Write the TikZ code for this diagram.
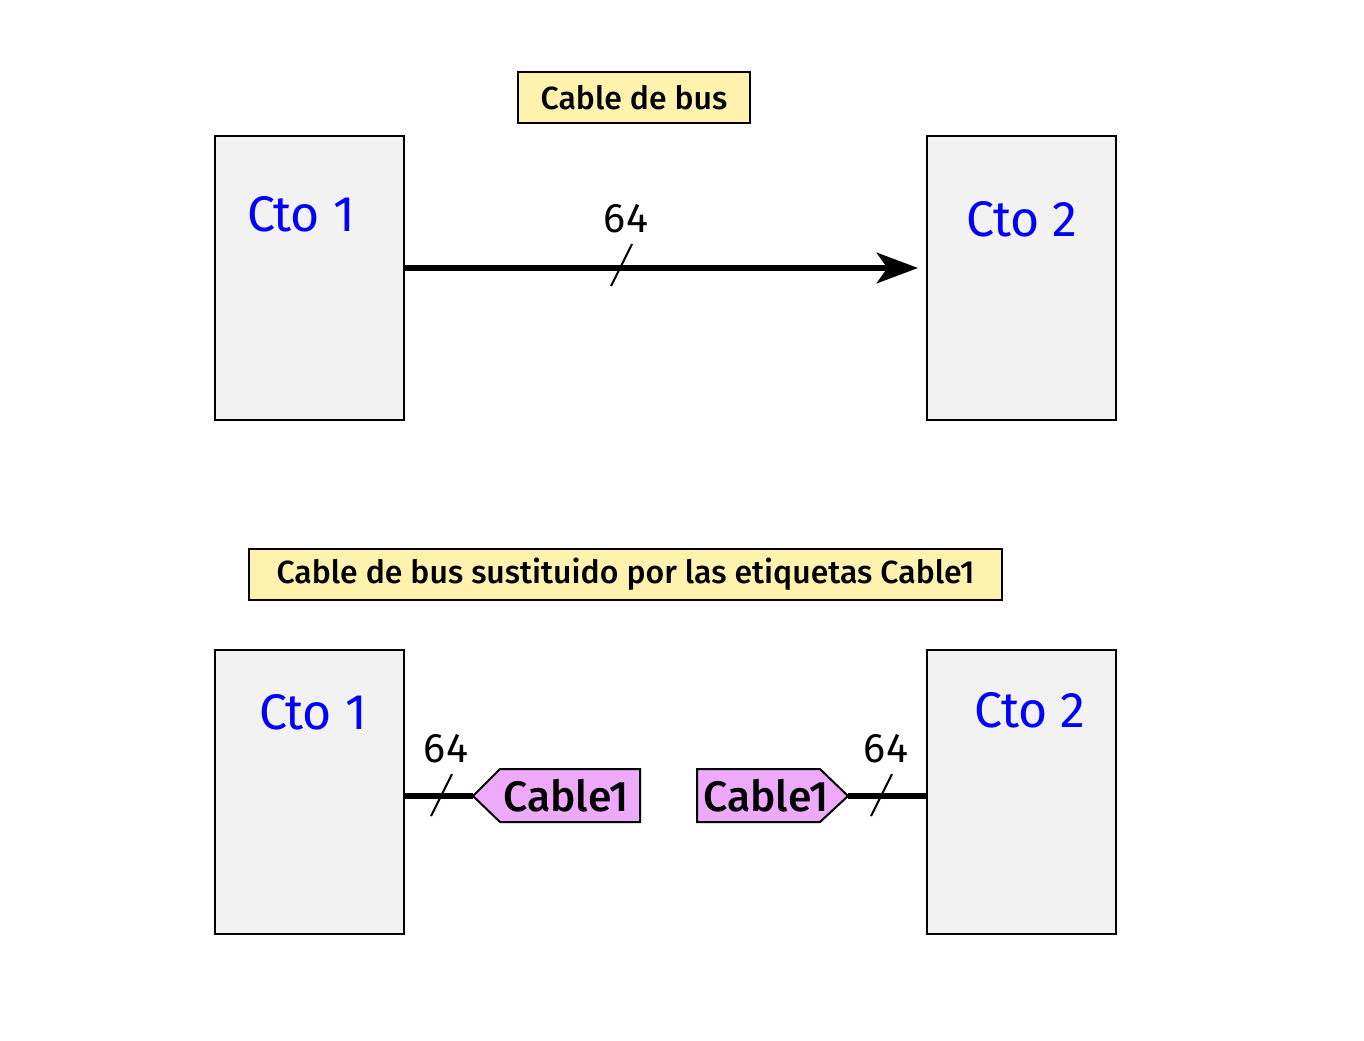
\documentclass[tikz,border=0pt]{standalone}
\usepackage{fontspec}
\setmainfont{Fira Sans}[BoldFont={Fira Sans Medium}]
\usetikzlibrary{arrows.meta}
\definecolor{boxgray}{RGB}{242,242,242}
\definecolor{noteyellow}{RGB}{255,241,174}
\definecolor{tagpink}{RGB}{238,170,250}
\definecolor{ctoblue}{RGB}{0,0,255}
\tikzset{
  x=0.75pt, y=-0.75pt,
  cto/.style={draw=black, line width=1.8pt, fill=boxgray},
  ctolabel/.style={text=ctoblue, font=\fontsize{37.5}{42}\selectfont, inner sep=0pt},
  note/.style={draw=black, line width=1.5pt, fill=noteyellow, inner sep=0pt, font=\bfseries\fontsize{24}{28}\selectfont},
  bus/.style={line width=3.8pt},
  slash/.style={line width=1.5pt},
  width/.style={font=\fontsize{31}{35}\selectfont, inner sep=0pt},
  tag/.style={draw=black, line width=1.5pt, fill=tagpink},
  tagtext/.style={font=\bfseries\fontsize{32}{36}\selectfont, inner sep=0pt},
}
\begin{document}
\begin{tikzpicture}
\useasboundingbox (0,0) rectangle (1364,1040);
% top part
\node[note, minimum width=232*0.75pt, minimum height=51*0.75pt] (t1) at (634,97.5) {Cable de bus};
\draw[cto] (215,136) rectangle (404,420);
\coordinate (a1) at (404,268);
\node[ctolabel] (c1) at (301,214) {Cto 1};
\draw[cto] (927,136) rectangle (1116,420);
\coordinate (a2) at (918,268);
\node[ctolabel] (c2) at (1022,219) {Cto 2};
\draw[bus, -{Stealth[length=31pt, width=23pt, inset=8pt]}] (a1) -- (a2);
\coordinate (s1a) at (611,286); \coordinate (s1b) at (632,244);
\draw[slash] (s1a) -- (s1b);
\node[width] (w1) at (626,219) {64};
% bottom part
\node[note, minimum width=753*0.75pt, minimum height=51*0.75pt] (t2) at (625.5,574.5) {Cable de bus sustituido por las etiquetas Cable1};
\draw[cto] (215,650) rectangle (404,934);
\node[ctolabel] (c3) at (313,712) {Cto 1};
\draw[cto] (927,650) rectangle (1116,934);
\node[ctolabel] (c4) at (1030,710) {Cto 2};
% left tag
\coordinate (b1) at (404,796);
\coordinate (l1) at (473,796);
\draw[tag] (l1) -- (500,769) -- (640,769) -- (640,822) -- (500,822) -- cycle;
\node[tagtext] (lt) at (566,796) {Cable1};
\draw[bus] (b1) -- (l1);
\coordinate (s2a) at (431,816); \coordinate (s2b) at (452,774);
\draw[slash] (s2a) -- (s2b);
\node[width] (w2) at (446,749) {64};
% right tag
\coordinate (r1) at (848,796);
\coordinate (b2) at (927,796);
\draw[tag] (697,769) -- (820,769) -- (r1) -- (820,822) -- (697,822) -- cycle;
\node[tagtext] (rt) at (766,796) {Cable1};
\draw[bus] (r1) -- (b2);
\coordinate (s3a) at (871,816); \coordinate (s3b) at (892,774);
\draw[slash] (s3a) -- (s3b);
\node[width] (w3) at (886,749) {64};
\end{tikzpicture}
\end{document}
